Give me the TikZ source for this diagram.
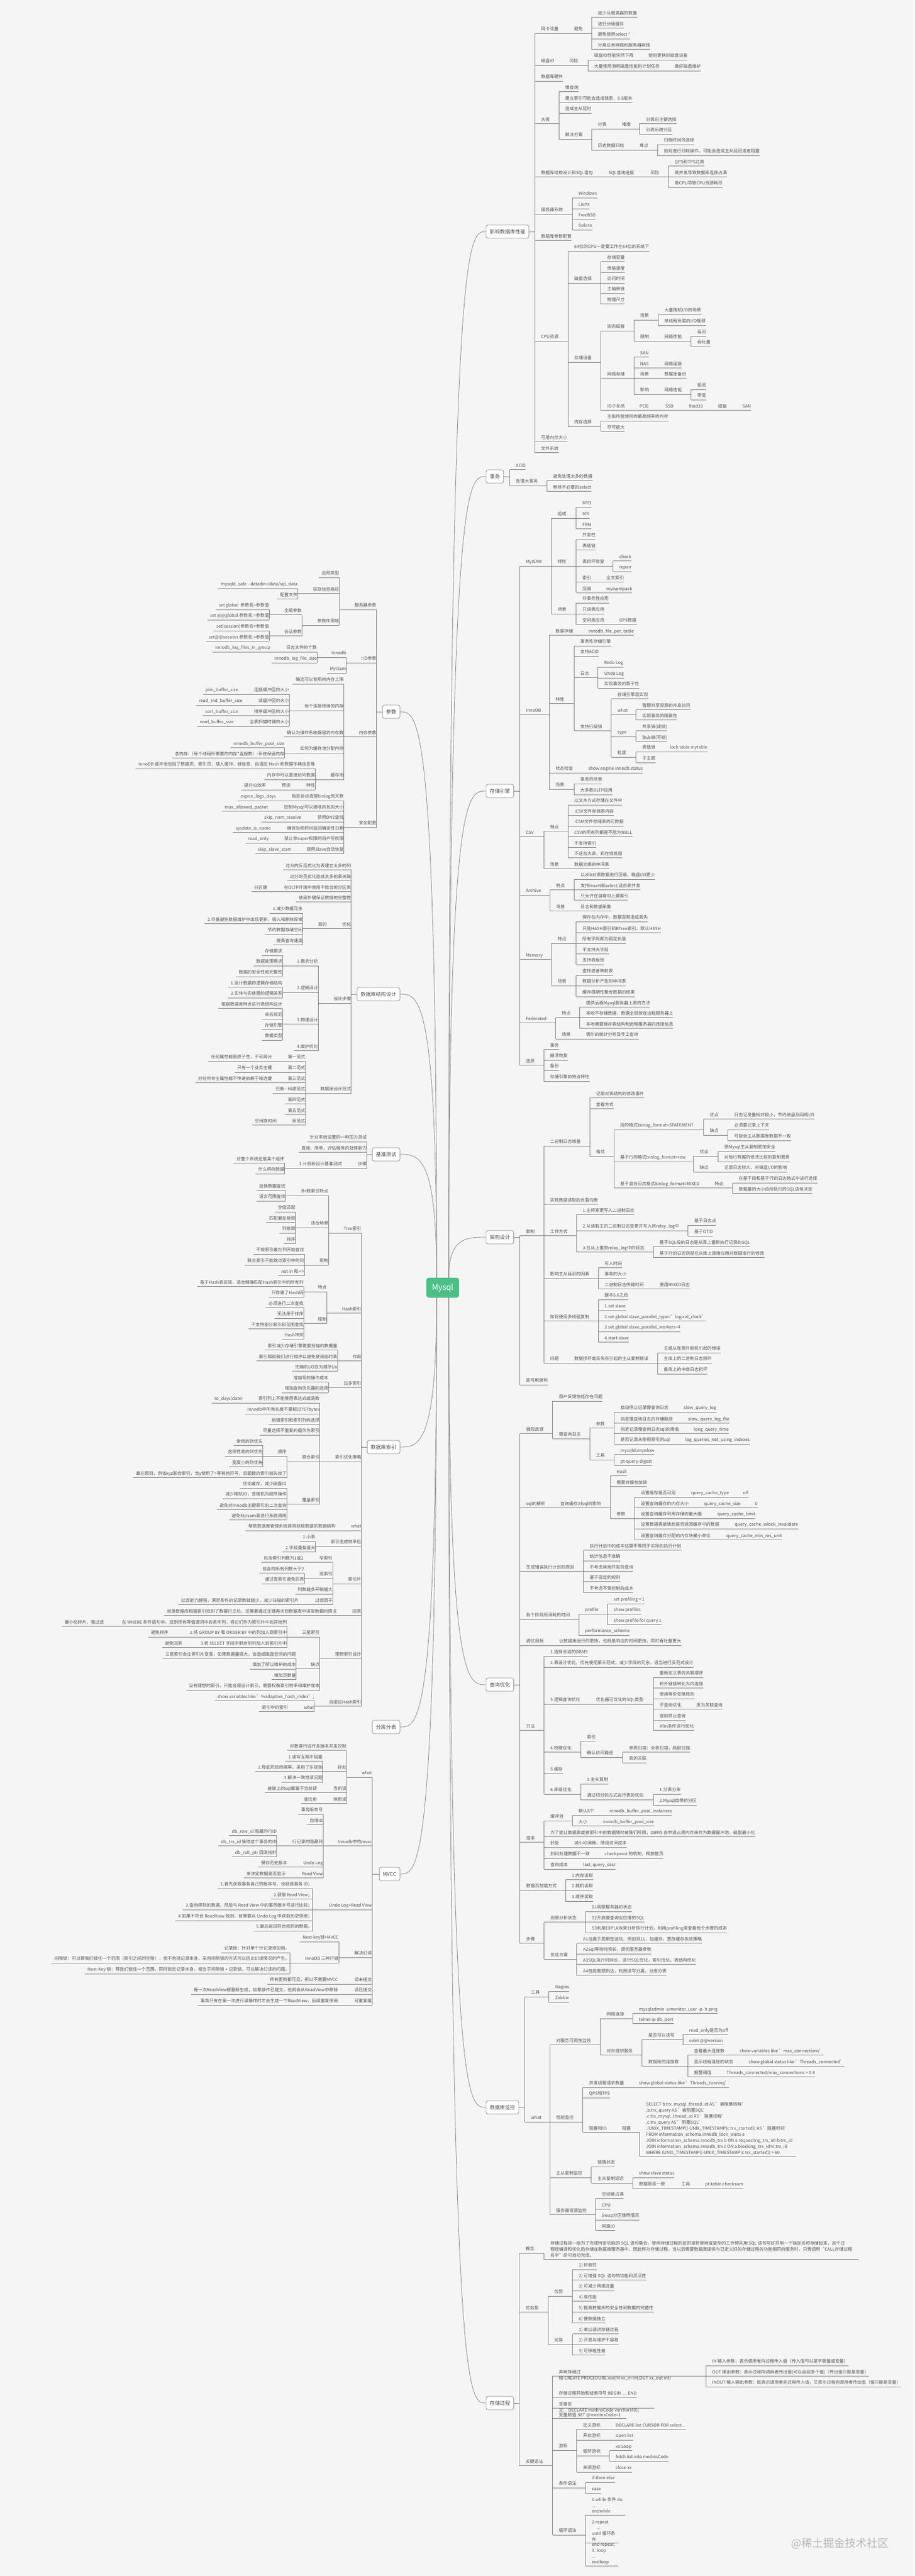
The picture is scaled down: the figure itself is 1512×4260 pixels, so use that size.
\documentclass[tikz,border=0pt]{standalone}
\usepackage{fontspec}
\setmainfont{Noto Sans CJK SC}
\definecolor{bg}{HTML}{F5F5F5}
\definecolor{txt}{HTML}{505050}
\definecolor{lc}{HTML}{8A8A8A}
\definecolor{mgreen}{HTML}{4DBF86}
\newcommand\fsz{\fontsize{7.2}{8}\selectfont}
\tikzset{
  rn/.style={anchor=west,inner xsep=0pt,inner ysep=2.5pt,text height=5.3pt,text depth=1.7pt,font=\fsz,text=txt},
  lnd/.style={rn,anchor=east},
  ln/.style={draw=lc,line width=0.7pt},
  crv/.style={draw=lc,line width=0.8pt},
  topbox/.style={draw=lc,fill=white,rounded corners=3pt,font=\fontsize{8.4}{10}\selectfont,text=txt!90!black,minimum height=22pt,inner xsep=6pt,inner ysep=2pt,line width=0.7pt},
  blk/.style={anchor=south west,inner sep=0pt,text=txt},
}
\newcommand\nR[4]{\node[rn] (#1) at (#2,#3) {\hspace{10.5pt}#4\hspace{4.5pt}};\draw[ln] (#1.south west) -- (#1.south east);}
\newcommand\nL[4]{\node[lnd] (#1) at (#2,#3) {\hspace{4.5pt}#4\hspace{10.5pt}};\draw[ln] (#1.south west) -- (#1.south east);}
\newcommand\conRs[2]{\foreach \x in {#2}{\draw[ln] (#1.south east) -| (\x.south west);}}
\newcommand\conLs[2]{\foreach \x in {#2}{\draw[ln] (#1.south west) -| (\x.south east);}}
\newcommand\topR[2]{\foreach \x in {#2}{\draw[ln] (#1.east) -| (\x.south west);}}
\newcommand\topL[2]{\foreach \x in {#2}{\draw[ln] (#1.west) -| (\x.south east);}}
\begin{document}
\begin{tikzpicture}[x=1pt,y=-1pt]
\fill[bg] (0,0) rectangle (1512,4260);
\useasboundingbox (0,0) rectangle (1512,4260);

% ================= center =================
\node[fill=mgreen,rounded corners=4pt,text=white,font=\fontsize{13}{15}\selectfont,minimum width=54pt,minimum height=33pt,inner sep=0pt] (mysql) at (732,2129.5) {Mysql};

% ================= right top boxes =================
\node[topbox,anchor=west] (b1) at (803.5,383) {影响数据库性能};
\node[topbox,anchor=west] (b2) at (803.5,788) {事务};
\node[topbox,anchor=west] (b3) at (803.5,1308) {存储引擎};
\node[topbox,anchor=west] (b4) at (803.5,2046) {架构设计};
\node[topbox,anchor=west] (b5) at (803.5,2786) {查询优化};
\node[topbox,anchor=west] (b6) at (803.5,3485) {数据库监控};
\node[topbox,anchor=west] (b7) at (803.5,3974) {存储过程};
% ================= left top boxes =================
\node[topbox,anchor=east] (L1) at (661.5,1177) {参数};
\node[topbox,anchor=east] (L2) at (661.5,1644) {数据库结构设计};
\node[topbox,anchor=east] (L3) at (661.5,1909) {基准测试};
\node[topbox,anchor=east] (L4) at (661.5,2393) {数据库索引};
\node[topbox,anchor=east] (L5) at (661.5,2856) {分库分表};
\node[topbox,anchor=east] (L6) at (661.5,3099) {MVCC};

\draw[crv] ([xshift=10pt]mysql.north) .. controls +(0,-1730) and +(-31,0) .. (b1.west);
\draw[crv] ([xshift=10pt]mysql.north) .. controls +(0,-1325) and +(-31,0) .. (b2.west);
\draw[crv] ([xshift=10pt]mysql.north) .. controls +(0,-805) and +(-31,0) .. (b3.west);
\draw[crv] ([xshift=10pt]mysql.north) .. controls +(0,-67) and +(-31,0) .. (b4.west);
\draw[crv] ([xshift=10pt]mysql.south) .. controls +(0,640) and +(-31,0) .. (b5.west);
\draw[crv] ([xshift=10pt]mysql.south) .. controls +(0,1339) and +(-31,0) .. (b6.west);
\draw[crv] ([xshift=10pt]mysql.south) .. controls +(0,1828) and +(-31,0) .. (b7.west);
\draw[crv] ([xshift=-10pt]mysql.north) .. controls +(0,-936) and +(30,0) .. (L1.east);
\draw[crv] ([xshift=-10pt]mysql.north) .. controls +(0,-469) and +(30,0) .. (L2.east);
\draw[crv] ([xshift=-10pt]mysql.north) .. controls +(0,-204) and +(30,0) .. (L3.east);
\draw[crv] ([xshift=-10pt]mysql.south) .. controls +(0,247) and +(30,0) .. (L4.east);
\draw[crv] ([xshift=-10pt]mysql.south) .. controls +(0,710) and +(30,0) .. (L5.east);
\draw[crv] ([xshift=-10pt]mysql.south) .. controls +(0,953) and +(30,0) .. (L6.east);

% ================= b1 影响数据库性能 =================
\nR{a1}{884}{49.2}{网卡流量}
\nR{a1a}{938.5}{49.2}{避免}
\nR{a1a1}{978}{22.4}{减少从服务器的数量}
\nR{a1a2}{978}{40.3}{进行分级缓存}
\nR{a1a3}{978}{58.1}{避免使用select *}
\nR{a1a4}{978}{75.5}{分离业务网络和服务器网络}
\nR{a2}{884}{101.9}{磁盘IO}
\nR{a2a}{931}{101.9}{风险}
\nR{a2a1}{972}{92.9}{磁盘IO性能突然下降}
\nR{a2a1a}{1061.5}{92.9}{使用更快的磁盘设备}
\nR{a2a2}{972}{110.8}{大量使用消耗磁盘性能的计划任务}
\nR{a2a2a}{1105}{110.8}{做好磁盘维护}
\nR{a3}{884}{127.7}{数据库硬件}
\nR{a4}{884}{198.3}{大表}
\nR{a4a}{924}{145.6}{慢查询}
\nR{a4b}{924}{163.5}{建立索引可能会造成锁表，5.5版本}
\nR{a4c}{924}{181}{造成主从延时}
\nR{a4d}{924}{224}{解决方案}
\nR{a4d1}{978}{207.2}{分表}
\nR{a4d1a}{1018}{207.2}{难度}
\nR{a4d1a1}{1057.5}{198.3}{分表后主键选择}
\nR{a4d1a2}{1057.5}{215.7}{分表后跨分区}
\nR{a4d2}{978}{242}{历史数据归档}
\nR{a4d2a}{1047}{242}{难点}
\nR{a4d2a1}{1087}{233}{归档时间的选择}
\nR{a4d2a2}{1087}{251}{如何进行归档操作，可能会造成主从延迟或者阻塞}
\nR{a5}{884}{286.3}{数据库结构设计和SQL语句}
\nR{a5a}{995.5}{286.3}{SQL查询速度}
\nR{a5a1}{1065}{286.3}{风险}
\nR{a5a1a}{1105}{268.4}{QPS和TPS过高}
\nR{a5a1b}{1105}{286.3}{高并发导致数据库连接占满}
\nR{a5a1c}{1105}{303.7}{高CPU导致CPU资源耗尽}
\nR{a6}{884}{347.9}{服务器系统}
\nR{a6a}{946}{321}{Windows}
\nR{a6b}{946}{339}{Liunx}
\nR{a6c}{946}{356.3}{FreeBSD}
\nR{a6d}{946}{373.7}{Solaris}
\nR{a7}{884}{391.6}{数据库参数配置}
\nR{a8}{884}{558}{CPU资源}
\nR{a8a}{939}{409}{64位的CPU一定要工作在64位的系统下}
\nR{a8b}{939}{461.7}{磁盘选择}
\nR{a8b1}{993.5}{426.4}{存储容量}
\nR{a8b2}{993.5}{444.3}{传输速度}
\nR{a8b3}{993.5}{461.7}{访问时间}
\nR{a8b4}{993.5}{479.1}{主轴转速}
\nR{a8b5}{993.5}{496.5}{物理尺寸}
\nR{a8c}{939}{592.9}{存储设备}
\nR{a8c1}{993.5}{540.7}{固态磁盘}
\nR{a8c1a}{1048}{522.8}{场景}
\nR{a8c1a1}{1088}{514}{大量随机I/O的场景}
\nR{a8c1a2}{1088}{531.8}{单线程负载的I/O瓶颈}
\nR{a8c1b}{1048}{558}{限制}
\nR{a8c1b1}{1088}{558}{网络性能}
\nR{a8c1b1a}{1142.5}{549.7}{延迟}
\nR{a8c1b1b}{1142.5}{567}{吞吐量}
\nR{a8c2}{993.5}{619.3}{网络存储}
\nR{a8c2a}{1048}{584.5}{SAN}
\nR{a8c2b}{1048}{602.4}{NAS}
\nR{a8c2b1}{1088}{602.4}{网络连接}
\nR{a8c2c}{1048}{619.3}{场景}
\nR{a8c2c1}{1088}{619.3}{数据库备份}
\nR{a8c2d}{1048}{646.1}{影响}
\nR{a8c2d1}{1088}{646.1}{网络性能}
\nR{a8c2d1a}{1142.5}{637.7}{延迟}
\nR{a8c2d1b}{1142.5}{655}{带宽}
\nR{a8c3}{993.5}{672.4}{IO子系统}
\nR{a8c3a}{1047}{672.4}{PCIE}
\nR{a8c3b}{1089.5}{672.4}{SSD}
\nR{a8c3c}{1128.5}{672.4}{Raid10}
\nR{a8c3d}{1177}{672.4}{磁盘}
\nR{a8c3e}{1217}{672.4}{SAN}
\nR{a8d}{939}{698.8}{内存选择}
\nR{a8d1}{993.5}{689.8}{主板所能使用的最高频率的内存}
\nR{a8d2}{993.5}{707.2}{尽可能大}
\nR{a9}{884}{724.6}{可用内存大小}
\nR{a10}{884}{742.5}{文件系统}
\topR{b1}{a1,a2,a3,a4,a5,a6,a7,a8,a9,a10}
\conRs{a1}{a1a}
\conRs{a1a}{a1a1,a1a2,a1a3,a1a4}
\conRs{a2}{a2a}
\conRs{a2a}{a2a1,a2a2}
\conRs{a2a1}{a2a1a}
\conRs{a2a2}{a2a2a}
\conRs{a4}{a4a,a4b,a4c,a4d}
\conRs{a4d}{a4d1,a4d2}
\conRs{a4d1}{a4d1a}
\conRs{a4d1a}{a4d1a1,a4d1a2}
\conRs{a4d2}{a4d2a}
\conRs{a4d2a}{a4d2a1,a4d2a2}
\conRs{a5}{a5a}
\conRs{a5a}{a5a1}
\conRs{a5a1}{a5a1a,a5a1b,a5a1c}
\conRs{a6}{a6a,a6b,a6c,a6d}
\conRs{a8}{a8a,a8b,a8c,a8d}
\conRs{a8b}{a8b1,a8b2,a8b3,a8b4,a8b5}
\conRs{a8c}{a8c1,a8c2,a8c3}
\conRs{a8c1}{a8c1a,a8c1b}
\conRs{a8c1a}{a8c1a1,a8c1a2}
\conRs{a8c1b}{a8c1b1}
\conRs{a8c1b1}{a8c1b1a,a8c1b1b}
\conRs{a8c2}{a8c2a,a8c2b,a8c2c,a8c2d}
\conRs{a8c2b}{a8c2b1}
\conRs{a8c2c}{a8c2c1}
\conRs{a8c2d}{a8c2d1}
\conRs{a8c2d1}{a8c2d1a,a8c2d1b}
\conRs{a8c3}{a8c3a}
\conRs{a8c3a}{a8c3b}
\conRs{a8c3b}{a8c3c}
\conRs{a8c3c}{a8c3d}
\conRs{a8c3d}{a8c3e}
\conRs{a8d}{a8d1,a8d2}

% ================= b2 事务 =================
\nR{t1}{842.5}{770.4}{ACID}
\nR{t2}{842.5}{796.8}{处理大事务}
\nR{t2a}{904}{788.3}{避免处理太多的数据}
\nR{t2b}{904}{806.2}{移除不必要的select}
\topR{b2}{t1,t2}
\conRs{t2}{t2a,t2b}

% ================= b3 存储引擎 =================
\nR{s1}{859}{930}{MyISAM}
\nR{s1a}{911.5}{851}{组成}
\nR{s1a1}{952.5}{833}{MYD}
\nR{s1a2}{952.5}{851}{MYI}
\nR{s1a3}{952.5}{868.3}{FRM}
\nR{s1b}{911.5}{930}{特性}
\nR{s1b1}{952.5}{885.7}{并发性}
\nR{s1b2}{952.5}{903.6}{表级锁}
\nR{s1b3}{952.5}{930}{表损坏修复}
\nR{s1b3a}{1013.5}{921.5}{check}
\nR{s1b3b}{1013.5}{939}{repair}
\nR{s1b4}{952.5}{956.3}{索引}
\nR{s1b4a}{992}{956.3}{全文索引}
\nR{s1b5}{952.5}{974.2}{压缩}
\nR{s1b5a}{992}{974.2}{myisampack}
\nR{s1c}{911.5}{1009}{场景}
\nR{s1c1}{952.5}{991.1}{非事务性应用}
\nR{s1c2}{952.5}{1009}{只读类应用}
\nR{s1c3}{952.5}{1026.4}{空间类应用}
\nR{s1c3a}{1013.5}{1026.4}{GPS数据}
\nR{s2}{859}{1175.5}{InnoDB}
\nR{s2a}{908}{1044.3}{数据存储}
\nR{s2a1}{962.5}{1044.3}{innodb\_file\_per\_table}
\nR{s2b}{908}{1157.6}{特性}
\nR{s2b1}{949}{1061.7}{事务性存储引擎}
\nR{s2b2}{949}{1079}{支持ACID}
\nR{s2b3}{949}{1114.4}{日志}
\nR{s2b3a}{988.5}{1097}{Redo Log}
\nR{s2b3b}{988.5}{1114.9}{Undo Log}
\nR{s2b3c}{988.5}{1131.8}{实现事务的原子性}
\nR{s2b4}{949}{1202.3}{支持行级锁}
\nR{s2b4a}{1010.5}{1149.6}{存储引擎层实现}
\nR{s2b4b}{1010.5}{1175.5}{what}
\nR{s2b4b1}{1051.5}{1167.5}{管理共享资源的并发访问}
\nR{s2b4b2}{1051.5}{1184.4}{实现事务的隔离性}
\nR{s2b4c}{1010.5}{1211.8}{type}
\nR{s2b4c1}{1051.5}{1202.3}{共享锁(读锁)}
\nR{s2b4c2}{1051.5}{1220.2}{独占锁(写锁)}
\nR{s2b4d}{1010.5}{1246}{粒度}
\nR{s2b4d1}{1051.5}{1237.1}{表级锁}
\nR{s2b4d1a}{1097}{1237.1}{lock table mytable}
\nR{s2b4d2}{1051.5}{1255}{子主题}
\nR{s2c}{908}{1271.9}{状态检查}
\nR{s2c1}{962.5}{1271.9}{show engine innodb status}
\nR{s2d}{908}{1298.7}{场景}
\nR{s2d1}{949}{1289.8}{事务的场景}
\nR{s2d2}{949}{1307.7}{大多数OLTP应用}
\nR{s3}{859}{1377.3}{CSV}
\nR{s3a}{899}{1368.3}{特点}
\nR{s3a1}{939}{1325.1}{以文本方式存储在文件中}
\nR{s3a2}{939}{1342.5}{.CSV文件存储表内容}
\nR{s3a3}{939}{1359.9}{.CSM文件存储表的元数据}
\nR{s3a4}{939}{1377.3}{CSV的所有列都是不能为NULL}
\nR{s3a5}{939}{1395.2}{不支持索引}
\nR{s3a6}{939}{1412.6}{不适合大表，和在线处理}
\nR{s3b}{899}{1430.5}{场景}
\nR{s3b1}{939}{1430.5}{数据交换的中间表}
\nR{s4}{859}{1473.7}{Archive}
\nR{s4a}{909}{1465.2}{特点}
\nR{s4a1}{949.5}{1447.8}{以zlib对表数据进行压缩，磁盘I/O更少}
\nR{s4a2}{949.5}{1465.2}{支持insert和select,适合高并发}
\nR{s4a3}{949.5}{1482.6}{只允许在自增ID上建索引}
\nR{s4b}{909}{1500.5}{场景}
\nR{s4b1}{949.5}{1500.5}{日志和数据采集}
\nR{s5}{859}{1580.2}{Memory}
\nR{s5a}{911.5}{1553.9}{特点}
\nR{s5a1}{952.5}{1518}{保存在内存中，数据容易造成丢失}
\nR{s5a2}{952.5}{1536.5}{只是HASH索引和BTree索引，默认HASH}
\nR{s5a3}{952.5}{1553.9}{所有字段都为固定长度}
\nR{s5a4}{952.5}{1571.3}{不支持大字段}
\nR{s5a5}{952.5}{1589.1}{支持表级锁}
\nR{s5b}{911.5}{1623.9}{场景}
\nR{s5b1}{952.5}{1607}{查找或者映射表}
\nR{s5b2}{952.5}{1623.9}{数据分析产生的中间表}
\nR{s5b3}{952.5}{1641.8}{缓存周期性聚合数据的结果}
\nR{s6}{859}{1685.6}{Federated}
\nR{s6a}{918.5}{1676.6}{特点}
\nR{s6a1}{958.5}{1659.2}{提供远程Mysql服务器上表的方法}
\nR{s6a2}{958.5}{1676.6}{本地不存储数据，数据全部放在远程服务器上}
\nR{s6a3}{958.5}{1694.5}{本地需要保存表结构和远程服务器的连接信息}
\nR{s6b}{918.5}{1711.9}{场景}
\nR{s6b1}{958.5}{1711.9}{偶尔的统计分析及手工查询}
\nR{s7}{859}{1755.6}{选择}
\nR{s7a}{899}{1729.3}{事务}
\nR{s7b}{899}{1746.7}{崩溃恢复}
\nR{s7c}{899}{1764.1}{备份}
\nR{s7d}{899}{1782}{存储引擎的特点特性}
\topR{b3}{s1,s2,s3,s4,s5,s6,s7}
\conRs{s1}{s1a,s1b,s1c}
\conRs{s1a}{s1a1,s1a2,s1a3}
\conRs{s1b}{s1b1,s1b2,s1b3,s1b4,s1b5}
\conRs{s1b3}{s1b3a,s1b3b}
\conRs{s1b4}{s1b4a}
\conRs{s1b5}{s1b5a}
\conRs{s1c}{s1c1,s1c2,s1c3}
\conRs{s1c3}{s1c3a}
\conRs{s2}{s2a,s2b,s2c,s2d}
\conRs{s2a}{s2a1}
\conRs{s2b}{s2b1,s2b2,s2b3,s2b4}
\conRs{s2b3}{s2b3a,s2b3b,s2b3c}
\conRs{s2b4}{s2b4a,s2b4b,s2b4c,s2b4d}
\conRs{s2b4b}{s2b4b1,s2b4b2}
\conRs{s2b4c}{s2b4c1,s2b4c2}
\conRs{s2b4d}{s2b4d1,s2b4d2}
\conRs{s2b4d1}{s2b4d1a}
\conRs{s2c}{s2c1}
\conRs{s2d}{s2d1,s2d2}
\conRs{s3}{s3a,s3b}
\conRs{s3a}{s3a1,s3a2,s3a3,s3a4,s3a5,s3a6}
\conRs{s3b}{s3b1}
\conRs{s4}{s4a,s4b}
\conRs{s4a}{s4a1,s4a2,s4a3}
\conRs{s4b}{s4b1}
\conRs{s5}{s5a,s5b}
\conRs{s5a}{s5a1,s5a2,s5a3,s5a4,s5a5}
\conRs{s5b}{s5b1,s5b2,s5b3}
\conRs{s6}{s6a,s6b}
\conRs{s6a}{s6a1,s6a2,s6a3}
\conRs{s6b}{s6b1}
\conRs{s7}{s7a,s7b,s7c,s7d}

% ================= b4 架构设计 =================
\nR{j1}{859}{2037.4}{复制}
\nR{j1a}{899}{1888.8}{二进制日志增量}
\nR{j1a1}{975}{1809.3}{记录对表结构的修改事件}
\nR{j1a2}{975}{1827.2}{查看方式}
\nR{j1a3}{975}{1905.7}{格式}
\nR{j1a3a}{1015}{1862}{段的格式binlog\_format=STATEMENT}
\nR{j1a3a1}{1163}{1844.6}{优点}
\nR{j1a3a1a}{1203.5}{1844.6}{日志记录量相对较小，节约磁盘及网络I/O}
\nR{j1a3a2}{1163}{1871}{缺点}
\nR{j1a3a2a}{1203.5}{1862}{必须要记录上下文}
\nR{j1a3a2b}{1203.5}{1879.9}{可能会主从数据库数据不一致}
\nR{j1a3b}{1015}{1914.7}{基于行的格式binlog\_format=row}
\nR{j1a3b1}{1146.5}{1905.7}{优点}
\nR{j1a3b1a}{1187}{1897.8}{使Mysql主从复制更加安全}
\nR{j1a3b1b}{1187}{1914.7}{对每行数据的修改比段的复制更高}
\nR{j1a3b2}{1146.5}{1932}{缺点}
\nR{j1a3b2a}{1187}{1932}{记录日志较大，对磁盘I/O的影响}
\nR{j1a3c}{1015}{1958.4}{基于混合日志格式binlog\_format=MIXED}
\nR{j1a3c1}{1171}{1958.4}{特点}
\nR{j1a3c1a}{1211}{1950}{在基于段和基于行的日志格式中进行选择}
\nR{j1a3c1b}{1211}{1967.4}{数据量的大小由所执行的SQL语句决定}
\nR{j1b}{899}{1985.3}{实现数据读取的负载均衡}
\nR{j1c}{899}{2037.4}{工作方式}
\nR{j1c1}{953}{2002.6}{1.主将变更写入二进制日志}
\nR{j1c2}{953}{2029}{2.从读取主的二进制日志变更并写入到relay\_log中}
\nR{j1c2a}{1137.5}{2020}{基于日志点}
\nR{j1c2b}{1137.5}{2038}{基于GTID}
\nR{j1c3}{953}{2064.3}{3.在从上重放relay\_log中的日志}
\nR{j1c3a}{1080}{2055.3}{基于SQL段的日志是从库上重新执行记录的SQL}
\nR{j1c3b}{1080}{2073.2}{基于行的日志则是在从库上直接应用对数据库行的修改}
\nR{j1d}{899}{2108}{影响主从延迟的因素}
\nR{j1d1}{989}{2090.6}{写入时间}
\nR{j1d2}{989}{2108}{事务的大小}
\nR{j1d3}{989}{2125.4}{二进制日志传输时间}
\nR{j1d3a}{1080}{2125.4}{使用MIXED日志}
\nR{j1e}{899}{2178.6}{如何使用多线程复制}
\nR{j1e1}{989}{2142.8}{版本5.6之后}
\nR{j1e2}{989}{2160.7}{1.set slave}
\nR{j1e3}{989}{2178.6}{2.set global slave\_parallel\_type='logical\_clock'}
\nR{j1e4}{989}{2196}{3.set global slave\_parallel\_workers=4}
\nR{j1e5}{989}{2213.4}{4.start slave}
\nR{j1f}{899}{2247.7}{问题}
\nR{j1f1}{939}{2247.7}{数据损坏或丢失所引起的主从复制错误}
\nR{j1f1a}{1087}{2230.8}{主或从库意外宕机引起的错误}
\nR{j1f1b}{1087}{2247.7}{主库上的二进制日志损坏}
\nR{j1f1c}{1087}{2266}{备库上的中继日志损坏}
\nR{j2}{859}{2284}{高可用架构}
\topR{b4}{j1,j2}
\conRs{j1}{j1a,j1b,j1c,j1d,j1e,j1f}
\conRs{j1a}{j1a1,j1a2,j1a3}
\conRs{j1a3}{j1a3a,j1a3b,j1a3c}
\conRs{j1a3a}{j1a3a1,j1a3a2}
\conRs{j1a3a1}{j1a3a1a}
\conRs{j1a3a2}{j1a3a2a,j1a3a2b}
\conRs{j1a3b}{j1a3b1,j1a3b2}
\conRs{j1a3b1}{j1a3b1a,j1a3b1b}
\conRs{j1a3b2}{j1a3b2a}
\conRs{j1a3c}{j1a3c1}
\conRs{j1a3c1}{j1a3c1a,j1a3c1b}
\conRs{j1c}{j1c1,j1c2,j1c3}
\conRs{j1c2}{j1c2a,j1c2b}
\conRs{j1c3}{j1c3a,j1c3b}
\conRs{j1d}{j1d1,j1d2,j1d3}
\conRs{j1d3}{j1d3a}
\conRs{j1e}{j1e1,j1e2,j1e3,j1e4,j1e5}
\conRs{j1f}{j1f1}
\conRs{j1f1}{j1f1a,j1f1b,j1f1c}

% ================= b5 查询优化 =================
\nR{q1}{859.5}{2364.6}{微观反馈}
\nR{q1a}{913.5}{2310.9}{用户反馈性能存在问题}
\nR{q1b}{913.5}{2373}{慢查询日志}
\nR{q1b1}{975}{2355.6}{参数}
\nR{q1b1a}{1015.5}{2328.8}{启动停止记录慢查询日志}
\nR{q1b1a1}{1120}{2328.8}{slow\_query\_log}
\nR{q1b1b}{1015.5}{2347.2}{指定慢查询日志的存储路径}
\nR{q1b1b1}{1127.5}{2347.2}{slow\_query\_log\_file}
\nR{q1b1c}{1015.5}{2364.6}{指定记录慢查询日志sql的阈值}
\nR{q1b1c1}{1136.5}{2364.6}{long\_query\_time}
\nR{q1b1d}{1015.5}{2382}{是否记录未使用索引的sql}
\nR{q1b1d1}{1122.5}{2382}{log\_queries\_not\_using\_indexes}
\nR{q1b2}{975}{2407.8}{工具}
\nR{q1b2a}{1015.5}{2399.3}{mysqldumpslow}
\nR{q1b2b}{1015.5}{2417.2}{pt-query-digest}
\nR{q2}{859.5}{2487.3}{sql的解析}
\nR{q2a}{916}{2487.3}{查询缓存对sql的影响}
\nR{q2a1}{1009}{2434.6}{Hash}
\nR{q2a2}{1009}{2452.5}{需要对缓存加锁}
\nR{q2a3}{1009}{2504.7}{参数}
\nR{q2a3a}{1049}{2469.9}{设置缓存是否可用}
\nR{q2a3a1}{1132.5}{2469.9}{query\_cache\_type}
\nR{q2a3a1a}{1218}{2469.9}{off}
\nR{q2a3b}{1049}{2487.3}{设置查询缓存的内存大小}
\nR{q2a3b1}{1154}{2487.3}{query\_cache\_size}
\nR{q2a3b1a}{1238}{2487.3}{0}
\nR{q2a3c}{1049}{2504.7}{设置查询缓存可用存储的最大值}
\nR{q2a3c1}{1175.5}{2504.7}{query\_cache\_limit}
\nR{q2a3d}{1049}{2522.1}{设置数据表被锁后是否返回缓存中的数据}
\nR{q2a3d1}{1204.5}{2522.1}{query\_cache\_wlock\_invalidare}
\nR{q2a3e}{1049}{2540.5}{设置查询缓存分配的内存块最小单位}
\nR{q2a3e1}{1190.5}{2540.5}{query\_cache\_min\_res\_unit}
\nR{q3}{859.5}{2592.2}{生成错误执行计划的原因}
\nR{q3a}{964.5}{2557.4}{执行计划中的成本估算不等同于实际的执行计划}
\nR{q3b}{964.5}{2574.8}{统计信息不准确}
\nR{q3c}{964.5}{2592.2}{不考虑其他并发的查询}
\nR{q3d}{964.5}{2609.6}{基于固定的规则}
\nR{q3e}{964.5}{2627.5}{不考虑不受控制的成本}
\nR{q4}{859.5}{2671.7}{各个阶段所消耗的时间}
\nR{q4a}{957}{2662.8}{profile}
\nR{q4a1}{1004}{2645.9}{set profiling = 1}
\nR{q4a2}{1004}{2662.8}{show profiles}
\nR{q4a3}{1004}{2680.6}{show profile for query 1}
\nR{q4b}{957}{2698}{performance\_schema}
\nR{q5}{859.5}{2714.9}{调优目标}
\nR{q5a}{914}{2714.9}{让数据库运行的更快，也就是响应的时间更快，同时吞吐量更大}
\nR{q6}{859.5}{2855.6}{方法}
\nR{q6a}{899.5}{2732.8}{1.选择合适的DBMS}
\nR{q6b}{899.5}{2750.7}{2.表设计优化，优先使用第三范式，减少字段的冗余，适当进行反范式设计}
\nR{q6c}{899.5}{2811.9}{3.逻辑查询优化}
\nR{q6c1}{975}{2811.9}{优化器可优化的SQL类型}
\nR{q6c1a}{1080}{2768.1}{重新定义表的关联顺序}
\nR{q6c1b}{1080}{2785.5}{将外链接转化为内连接}
\nR{q6c1c}{1080}{2802.9}{使用等价变换规则}
\nR{q6c1d}{1080}{2820.3}{子查询优化}
\nR{q6c1d1}{1141}{2820.3}{变为关联查询}
\nR{q6c1e}{1080}{2838.7}{提前终止查询}
\nR{q6c1f}{1080}{2855.6}{对in条件进行优化}
\nR{q6d}{899.5}{2891.4}{4.物理优化}
\nR{q6d1}{960}{2873.5}{索引}
\nR{q6d2}{960}{2899.8}{确认访问路径}
\nR{q6d2a}{1029.5}{2891.4}{单表扫描：全表扫描，局部扫描}
\nR{q6d2b}{1029.5}{2908.8}{表的关联}
\nR{q6e}{899.5}{2926.2}{5.缓存}
\nR{q6f}{899.5}{2961}{6.库级优化}
\nR{q6f1}{960}{2944}{1.主从复制}
\nR{q6f2}{960}{2969.9}{通过切分的方式进行表的优化}
\nR{q6f2a}{1080}{2961}{1.分表分库}
\nR{q6f2b}{1080}{2978.8}{2.Mysql自带的分区}
\nR{q7}{859.5}{3040.5}{成本}
\nR{q7a}{899.5}{3004.7}{缓冲池}
\nR{q7a1}{946}{2995.7}{默认8个}
\nR{q7a1a}{997.5}{2995.7}{innodb\_buffer\_pool\_instances}
\nR{q7a2}{946}{3013.6}{大小}
\nR{q7a2a}{986.5}{3013.6}{innodb\_buffer\_pool\_size}
\nR{q7b}{899.5}{3031.5}{为了能让数据表或者索引中的数据随时被我们所用，DBMS 会申请占用内存来作为数据缓冲池，磁盘最小化}
\nR{q7c}{899.5}{3048.9}{好处}
\nR{q7c1}{939}{3048.9}{减小IO消耗，降低访问成本}
\nR{q7d}{899.5}{3067}{如何处理数据不一致}
\nR{q7d1}{989.5}{3067}{checkpoint 的机制，释放脏页}
\nR{q7e}{899.5}{3084.9}{查询成本}
\nR{q7e1}{953.5}{3084.9}{last\_query\_cost}
\nR{q8}{859.5}{3120.1}{数据页加载方式}
\nR{q8a}{935}{3102.2}{1.内存读取}
\nR{q8b}{935}{3120.1}{2.随机读取}
\nR{q8c}{935}{3138}{3.顺序读取}
\nR{q9}{859.5}{3207.6}{步骤}
\nR{q9a}{899.5}{3172.3}{观察分析状态}
\nR{q9a1}{968}{3154.9}{S1观察服务器的状态}
\nR{q9a2}{968}{3172.3}{S2开启慢查询定位慢的SQL}
\nR{q9a3}{968}{3189.7}{S3利用EXPLAIN来分析执行计划，利用profiling来查看每个步骤的成本}
\nR{q9b}{899.5}{3234}{优化方案}
\nR{q9b1}{953.5}{3207.6}{A1当属于周期性波动，例如双11，加缓存，更改缓存失效策略}
\nR{q9b2}{953.5}{3225}{A2Sql等待时间长，调优服务器参数}
\nR{q9b3}{953.5}{3242.4}{A3SQL执行时间长，进行SQL优化，索引优化，表结构优化}
\nR{q9b4}{953.5}{3260.3}{A4性能瓶颈到达，利用读写分离，分库分表}
\topR{b5}{q1,q2,q3,q4,q5,q6,q7,q8,q9}
\conRs{q1}{q1a,q1b}
\conRs{q1b}{q1b1,q1b2}
\conRs{q1b1}{q1b1a,q1b1b,q1b1c,q1b1d}
\conRs{q1b1a}{q1b1a1}
\conRs{q1b1b}{q1b1b1}
\conRs{q1b1c}{q1b1c1}
\conRs{q1b1d}{q1b1d1}
\conRs{q1b2}{q1b2a,q1b2b}
\conRs{q2}{q2a}
\conRs{q2a}{q2a1,q2a2,q2a3}
\conRs{q2a3}{q2a3a,q2a3b,q2a3c,q2a3d,q2a3e}
\conRs{q2a3a}{q2a3a1}
\conRs{q2a3a1}{q2a3a1a}
\conRs{q2a3b}{q2a3b1}
\conRs{q2a3b1}{q2a3b1a}
\conRs{q2a3c}{q2a3c1}
\conRs{q2a3d}{q2a3d1}
\conRs{q2a3e}{q2a3e1}
\conRs{q3}{q3a,q3b,q3c,q3d,q3e}
\conRs{q4}{q4a,q4b}
\conRs{q4a}{q4a1,q4a2,q4a3}
\conRs{q5}{q5a}
\conRs{q6}{q6a,q6b,q6c,q6d,q6e,q6f}
\conRs{q6c}{q6c1}
\conRs{q6c1}{q6c1a,q6c1b,q6c1c,q6c1d,q6c1e,q6c1f}
\conRs{q6c1d}{q6c1d1}
\conRs{q6d}{q6d1,q6d2}
\conRs{q6d2}{q6d2a,q6d2b}
\conRs{q6f}{q6f1,q6f2}
\conRs{q6f2}{q6f2a,q6f2b}
\conRs{q7}{q7a,q7b,q7c,q7d,q7e}
\conRs{q7a}{q7a1,q7a2}
\conRs{q7a1}{q7a1a}
\conRs{q7a2}{q7a2a}
\conRs{q7c}{q7c1}
\conRs{q7d}{q7d1}
\conRs{q7e}{q7e1}
\conRs{q8}{q8a,q8b,q8c}
\conRs{q9}{q9a,q9b}
\conRs{q9a}{q9a1,q9a2,q9a3}
\conRs{q9b}{q9b1,q9b2,q9b3,q9b4}

% ================= b6 数据库监控 =================
\nR{m1}{867.5}{3296}{工具}
\nR{m1a}{907.5}{3287.1}{Nagios}
\nR{m1b}{907.5}{3305}{Zabbix}
\nR{m2}{867.5}{3502.8}{what}
\nR{m2a}{909}{3375.6}{对服务可用性监控}
\nR{m2a1}{992.5}{3331.9}{网络连接}
\nR{m2a1a}{1046}{3323.4}{mysqladmin -umonitor\_user -p -h ping}
\nR{m2a1b}{1046}{3340.3}{telnet ip db\_port}
\nR{m2a2}{992.5}{3392.5}{对外提供服务}
\nR{m2a2a}{1061.5}{3366.6}{是否可以读写}
\nR{m2a2a1}{1129}{3358.2}{read\_only是否为off}
\nR{m2a2a2}{1129}{3375.6}{selet @@version}
\nR{m2a2b}{1061.5}{3410.9}{数据库的连接数}
\nR{m2a2b1}{1137}{3392.5}{查看最大连接数}
\nR{m2a2b1a}{1212.5}{3392.5}{show variables like 'max\_connections'}
\nR{m2a2b2}{1137}{3410.9}{显示线程连接的状态}
\nR{m2a2b2a}{1227.5}{3410.9}{show global status like 'Threads\_connected'}
\nR{m2a2b3}{1137}{3428.3}{报警阈值}
\nR{m2a2b3a}{1191}{3428.3}{Threads\_connected/max\_connections > 0.8}
\nR{m2b}{909}{3502.8}{性能监控}
\nR{m2b1}{963.5}{3445.7}{并发线程请求数量}
\nR{m2b1a}{1046}{3445.7}{show global status like 'Threads\_running'}
\nR{m2b2}{963.5}{3463}{QPS和TPS}
\nR{m2b3}{963.5}{3520.2}{阻塞和IO}
\nR{m2b3a}{1018}{3520.2}{阻塞}
\node[blk] (sel) at (1057.6,3566) {\fontsize{7.2}{10}\selectfont\begin{tabular}{@{\hspace{10.5pt}}l@{\hspace{5pt}}}SELECT b.trx\_mysql\_thread\_id AS '被阻塞线程'\\,b.trx\_query AS '被阻塞SQL'\\,c.trx\_mysql\_thread\_id AS '阻塞线程'\\,c.trx\_query AS '阻塞SQL'\\,(UNIX\_TIMESTAMP()-UNIX\_TIMESTAMP(c.trx\_started)) AS '阻塞时间'\\FROM information\_schema.innodb\_lock\_waits a\\JOIN information\_schema.innodb\_trx b ON a.requesting\_trx\_id=b.trx\_id\\JOIN information\_schema.innodb\_trx c ON a.blocking\_trx\_id=c.trx\_id\\WHERE (UNIX\_TIMESTAMP()-UNIX\_TIMESTAMP(c.trx\_started)) > 60\end{tabular}};
\draw[ln] (sel.south west) -- (sel.south east);
\nR{m2c}{909}{3594.8}{主从复制监控}
\nR{m2c1}{977.5}{3576.9}{链路状态}
\nR{m2c2}{977.5}{3603.7}{主从复制延迟}
\nR{m2c2a}{1046}{3594.8}{show slave status}
\nR{m2c2b}{1046}{3612.7}{数据是否一致}
\nR{m2c2b1}{1116}{3612.7}{工具}
\nR{m2c2b1a}{1155.5}{3612.7}{pt-table-checksum}
\nR{m2d}{909}{3656.4}{服务器资源监控}
\nR{m2d1}{984.5}{3629.6}{空间被占满}
\nR{m2d2}{984.5}{3647.5}{CPU}
\nR{m2d3}{984.5}{3664.8}{Swap分区使用情况}
\nR{m2d4}{984.5}{3682.2}{网路IO}
\topR{b6}{m1,m2}
\conRs{m1}{m1a,m1b}
\conRs{m2}{m2a,m2b,m2c,m2d}
\conRs{m2a}{m2a1,m2a2}
\conRs{m2a1}{m2a1a,m2a1b}
\conRs{m2a2}{m2a2a,m2a2b}
\conRs{m2a2a}{m2a2a1,m2a2a2}
\conRs{m2a2b}{m2a2b1,m2a2b2,m2a2b3}
\conRs{m2a2b1}{m2a2b1a}
\conRs{m2a2b2}{m2a2b2a}
\conRs{m2a2b3}{m2a2b3a}
\conRs{m2b}{m2b1,m2b2,m2b3}
\conRs{m2b1}{m2b1a}
\conRs{m2b3}{m2b3a}
\conRs{m2b3a}{sel}
\conRs{m2c}{m2c1,m2c2}
\conRs{m2c2}{m2c2a,m2c2b}
\conRs{m2c2b}{m2c2b1}
\conRs{m2c2b1}{m2c2b1a}
\conRs{m2d}{m2d1,m2d2,m2d3,m2d4}

% ================= b7 存储过程 =================
\nR{p1}{858.5}{3720}{概念}
\node[blk] (p1a) at (899.3,3736) {\fontsize{7.2}{10}\selectfont\begin{tabular}{@{\hspace{10.5pt}}l@{\hspace{11pt}}}存储过程是一组为了完成特定功能的 SQL 语句集合。使用存储过程的目的是将常用或复杂的工作预先用 SQL 语句写好并用一个指定名称存储起来，这个过\\程经编译和优化后存储在数据库服务器中，因此称为存储过程。当以后需要数据库提供与已定义好的存储过程的功能相同的服务时，只需调用“CALL存储过程\\名字”即可自动完成。\end{tabular}};
\draw[ln] (p1a.south west) -- (p1a.south east);
\nR{p2}{858.5}{3817.4}{优劣势}
\nR{p2a}{906}{3791}{优势}
\nR{p2a1}{946.5}{3746.9}{1) 封装性}
\nR{p2a2}{946.5}{3764.2}{2) 可增强 SQL 语句的功能和灵活性}
\nR{p2a3}{946.5}{3782.1}{3) 可减少网络流量}
\nR{p2a4}{946.5}{3799.5}{4) 高性能}
\nR{p2a5}{946.5}{3817.4}{5) 提高数据库的安全性和数据的完整性}
\nR{p2a6}{946.5}{3835.5}{6) 使数据独立}
\nR{p2b}{906}{3871}{劣势}
\nR{p2b1}{946.5}{3853.3}{1) 难以调试存储过程}
\nR{p2b2}{946.5}{3871}{2) 开发与维护不容易}
\nR{p2b3}{946.5}{3888.6}{3) 可移植性差}
\nR{p3}{858.5}{4071.4}{关键语法}
\node[rn] (p3a) at (913.5,3923.2) {\makebox[253.4pt][l]{\hspace{10.5pt}声明存储过}};
\draw[ln] (p3a.south west) -- (p3a.south east);
\node[rn] (p3aL) at (913.5,3934) {\hspace{10.5pt}程:CREATE PROCEDURE xxx(IN xx\_in int,OUT xx\_out int)};
\nR{p3a1}{1167}{3906}{IN 输入参数：表示调用者向过程传入值（传入值可以是字面量或变量）}
\nR{p3a2x}{1167}{3923.6}{OUT 输出参数：表示过程向调用者传出值(可以返回多个值)（传出值只能是变量）}
\nR{p3a3}{1167}{3940.9}{INOUT 输入输出参数：既表示调用者向过程传入值，又表示过程向调用者传出值（值只能是变量）}
\nR{p3b}{913.5}{3958.5}{存储过程开始和结束符号:BEGIN .... END}
\node[rn] (p3c) at (913.5,3976.5) {\makebox[168.5pt][l]{\hspace{10.5pt}变量定}};
\draw[ln] (p3c.south west) -- (p3c.south east);
\node[blk] (p3c2) at (913.5,3999) {\fontsize{7.2}{7.4}\selectfont\begin{tabular}{@{\hspace{10.5pt}}l@{}}义:\ \ \ \ DECLARE medinsCode varchar(40);\\变量赋值:SET @medinsCode=1\end{tabular}};
\draw[ln] (p3c2.south west) -- ++(122.5,0);
\nR{p3d}{913.5}{4046.1}{游标}
\nR{p3d1}{953.5}{4011.2}{定义游标}
\nR{p3d1a}{1007.5}{4011.2}{DECLARE list  CURSOR FOR select...}
\nR{p3d2}{953.5}{4028.8}{开启游标}
\nR{p3d2a}{1007.5}{4028.8}{open list}
\nR{p3d3}{953.5}{4055.1}{循环游标}
\nR{p3d3a}{1007.5}{4046.5}{xx:Loop}
\nR{p3d3b}{1007.5}{4064.1}{fetch list into medinsCode}
\nR{p3d4}{953.5}{4081.7}{关闭游标}
\nR{p3d4a}{1007.5}{4081.7}{close xx}
\nR{p3e}{913.5}{4107.7}{条件语法}
\nR{p3e1}{968}{4098.7}{if-then-else}
\nR{p3e2}{968}{4116.7}{case}
\nR{p3f}{913.5}{4185.6}{循环语法}
\node[blk] (p3f1) at (968,4159) {\fontsize{7.2}{9.8}\selectfont\begin{tabular}{@{\hspace{10.5pt}}l@{\hspace{5pt}}}1.while 条件 do\\...\\endwhile\end{tabular}};
\draw[ln] (p3f1.south west) -- (p3f1.south east);
\node[blk] (p3f2) at (968,4205.6) {\fontsize{7.2}{9.8}\selectfont\begin{tabular}{@{\hspace{10.5pt}}l@{\hspace{5pt}}}2.repeat\\\hspace*{8pt}...\\until 循环条\\件\end{tabular}};
\draw[ln] (p3f2.south west) -- (p3f2.south east);
\node[blk] (p3f3) at (968,4243) {\fontsize{7.2}{9.8}\selectfont\begin{tabular}{@{\hspace{10.5pt}}l@{\hspace{5pt}}}end repeat;\\3. loop\\...\\endloop\end{tabular}};
\draw[ln] (p3f3.south west) -- (p3f3.south east);
\topR{b7}{p1,p2,p3}
\conRs{p1}{p1a}
\conRs{p2}{p2a,p2b}
\conRs{p2a}{p2a1,p2a2,p2a3,p2a4,p2a5,p2a6}
\conRs{p2b}{p2b1,p2b2,p2b3}
\conRs{p3}{p3a,p3b,p3c,p3c2,p3d,p3e,p3f}
\conRs{p3a}{p3a1,p3a2x,p3a3}
\conRs{p3d}{p3d1,p3d2,p3d3,p3d4}
\conRs{p3d1}{p3d1a}
\conRs{p3d2}{p3d2a}
\conRs{p3d3}{p3d3a,p3d3b}
\conRs{p3d4}{p3d4a}
\conRs{p3e}{p3e1,p3e2}
\conRs{p3f}{p3f1,p3f2,p3f3}

% ================= L1 参数 =================
\nL{r1}{622.5}{1001.7}{服务器参数}
\nL{r1a}{561}{949.1}{应用类型}
\nL{r1b}{561}{975.2}{获取信息路径}
\nL{r1b1}{492}{966.9}{mysqld\_safe -{}-datadir=/data/sql\_data}
\nL{r1b2}{492}{984.3}{配置文件}
\nL{r1c}{561}{1028.1}{参数作用域}
\nL{r1c1}{499}{1010.4}{全局参数}
\nL{r1c1a}{445}{1001.7}{set global \ 参数名=参数值}
\nL{r1c1b}{445}{1019}{set @@global.参数名:=参数值}
\nL{r1c2}{499}{1045.5}{会话参数}
\nL{r1c2a}{445}{1036.8}{set[session]参数名=参数值}
\nL{r1c2b}{445}{1054.2}{set@@session.参数名:=参数值}
\nL{r2}{622.5}{1089.7}{I/O参数}
\nL{r2a}{572.5}{1081}{Innodb}
\nL{r2a1}{524}{1072}{日志文件的个数}
\nL{r2a1a}{447}{1072}{innodb\_log\_files\_in\_group}
\nL{r2a2}{524}{1089.7}{innodb\_log\_file\_size}
\nL{r2b}{572.5}{1107.1}{MyISam}
\nL{r3}{622.5}{1212.6}{内存参数}
\nL{r3a}{568.5}{1124.9}{确定可以使用的内存上限}
\nL{r3b}{568.5}{1168.7}{每个连接使用的内存}
\nL{r3b1}{478}{1141.9}{连接缓冲区的大小}
\nL{r3b1a}{394}{1141.9}{join\_buffer\_size}
\nL{r3b2}{478}{1159.7}{读缓冲区的大小}
\nL{r3b2a}{401}{1159.7}{read\_rnd\_buffer\_size}
\nL{r3b3}{478}{1177.4}{排序缓冲区的大小}
\nL{r3b3a}{394}{1177.4}{sort\_buffer\_size}
\nL{r3b4}{478}{1194.8}{全表扫描时候的大小}
\nL{r3b4a}{386.5}{1194.8}{read\_buffer\_size}
\nL{r3c}{568.5}{1212.6}{确认为操作系统保留的内存数}
\nL{r3d}{568.5}{1239}{如何为缓存池分配内存}
\nL{r3d1}{470.5}{1230.4}{innodb\_buffer\_pool\_size}
\nL{r3d2}{470.5}{1247.4}{总内存-（每个线程所需要的内存*连接数）-系统保留内存}
\nL{r3e}{568.5}{1282.9}{缓存池}
\nL{r3e1}{521}{1265.1}{InnoDB 缓冲池包括了数据页、索引页、插入缓冲、锁信息、自适应 Hash 和数据字典信息等}
\nL{r3e2}{521}{1282.9}{内存中可以直接访问数据}
\nL{r3e3}{521}{1299.9}{特性}
\nL{r3e3a}{480.5}{1299.9}{预读}
\nL{r3e3b}{440}{1299.9}{提升IO效率}
\nL{r4}{622.5}{1361.9}{安全配置}
\nL{r4a}{568.5}{1318}{指定自动清理binlog的天数}
\nL{r4a1}{456.5}{1318}{expire\_logs\_days}
\nL{r4b}{568.5}{1335.4}{控制Mysql可以接收的包的大小}
\nL{r4b1}{443.5}{1335.4}{max\_allowed\_packet}
\nL{r4c}{568.5}{1352.8}{禁用DNS查找}
\nL{r4c1}{498.5}{1352.8}{skip\_nam\_resolve}
\nL{r4d}{568.5}{1370.6}{确保当前时间返回确定性日期}
\nL{r4d1}{448}{1370.6}{sysdate\_is\_name}
\nL{r4e}{568.5}{1388}{禁止非super权限的用户写权限}
\nL{r4e1}{444.5}{1388}{read\_only}
\nL{r4f}{568.5}{1405.4}{禁用Slave自动恢复}
\nL{r4f1}{481}{1405.4}{skip\_slave\_start}
\topL{L1}{r1,r2,r3,r4}
\conLs{r1}{r1a,r1b,r1c}
\conLs{r1b}{r1b1,r1b2}
\conLs{r1c}{r1c1,r1c2}
\conLs{r1c1}{r1c1a,r1c1b}
\conLs{r1c2}{r1c2a,r1c2b}
\conLs{r2}{r2a,r2b}
\conLs{r2a}{r2a1,r2a2}
\conLs{r2a1}{r2a1a}
\conLs{r3}{r3a,r3b,r3c,r3d,r3e}
\conLs{r3b}{r3b1,r3b2,r3b3,r3b4}
\conLs{r3b1}{r3b1a}
\conLs{r3b2}{r3b2a}
\conLs{r3b3}{r3b3a}
\conLs{r3b4}{r3b4a}
\conLs{r3d}{r3d1,r3d2}
\conLs{r3e}{r3e1,r3e2,r3e3}
\conLs{r3e3}{r3e3a}
\conLs{r3e3a}{r3e3b}
\conLs{r4}{r4a,r4b,r4c,r4d,r4e,r4f}
\conLs{r4a}{r4a1}
\conLs{r4b}{r4b1}
\conLs{r4c}{r4c1}
\conLs{r4d}{r4d1}
\conLs{r4e}{r4e1}
\conLs{r4f}{r4f1}

% ================= L2 数据库结构设计 =================
\nL{d1}{580.5}{1432.6}{过分的反范式化为表建立太多的列}
\nL{d2}{580.5}{1450.4}{过分的范式化造成太多的表关联}
\nL{d3}{580.5}{1468.2}{在OLTP环境中使用不恰当的分区表}
\nL{d3a}{442}{1468.2}{分区键}
\nL{d4}{580.5}{1485.5}{使用外键保证数据的完整性}
\nL{d5}{580.5}{1529.5}{优化}
\nL{d5a}{540.5}{1529.5}{目的}
\nL{d5a1}{500.5}{1503.8}{1.减少数据冗余}
\nL{d5a2}{500.5}{1521.6}{2.尽量避免数据维护中出现更新，插入和删除异常}
\nL{d5a3}{500.5}{1539}{节约数据存储空间}
\nL{d5a4}{500.5}{1556.4}{提高查询速度}
\nL{d6}{580.5}{1652.7}{设计步骤}
\nL{d6a}{526}{1591.1}{1.需求分析}
\nL{d6a1}{467}{1574.1}{存储需求}
\nL{d6a2}{467}{1591.1}{数据处理需求}
\nL{d6a3}{467}{1608.9}{数据的安全性和完整性}
\nL{d6b}{526}{1635}{2.逻辑设计}
\nL{d6b1}{467}{1626.3}{1.设计数据的逻辑存储结构}
\nL{d6b2}{467}{1644}{2.实体与实体建的逻辑关系}
\nL{d6c}{526}{1687.5}{3.物理设计}
\nL{d6c1}{467}{1661.4}{根据数据库特点进行表结构设计}
\nL{d6c2}{467}{1678.8}{命名规范}
\nL{d6c3}{467}{1696.2}{存储引擎}
\nL{d6c4}{467}{1714}{数据类型}
\nL{d6d}{526}{1731.3}{4.维护优化}
\nL{d7}{580.5}{1802}{数据库设计范式}
\nL{d7a}{505}{1749.1}{第一范式}
\nL{d7a1}{450}{1749.1}{任何属性都是原子性，不可再分}
\nL{d7b}{505}{1766.9}{第二范式}
\nL{d7b1}{450}{1766.9}{只有一个业务主键}
\nL{d7c}{505}{1784.3}{第三范式}
\nL{d7c1}{450}{1784.3}{对任何非主属性都不传递依赖于候选键}
\nL{d7d}{505}{1802}{巴斯 - 科德范式}
\nL{d7e}{505}{1819.4}{第四范式}
\nL{d7f}{505}{1837.2}{第五范式}
\nL{d7g}{505}{1854.6}{反范式}
\nL{d7g1}{457.5}{1854.6}{空间换时间}
\topL{L2}{d1,d2,d3,d4,d5,d6,d7}
\conLs{d3}{d3a}
\conLs{d5}{d5a}
\conLs{d5a}{d5a1,d5a2,d5a3,d5a4}
\conLs{d6}{d6a,d6b,d6c,d6d}
\conLs{d6a}{d6a1,d6a2,d6a3}
\conLs{d6b}{d6b1,d6b2}
\conLs{d6c}{d6c1,d6c2,d6c3,d6c4}
\conLs{d7}{d7a,d7b,d7c,d7d,d7e,d7f,d7g}
\conLs{d7a}{d7a1}
\conLs{d7b}{d7b1}
\conLs{d7c}{d7c1}
\conLs{d7g}{d7g1}

% ================= L3 基准测试 =================
\nL{e1}{606.5}{1881.8}{针对系统设置的一种压力测试}
\nL{e2}{606.5}{1899.6}{直接、简单，评估服务的处理能力}
\nL{e3}{606.5}{1926.1}{步骤}
\nL{e3a}{565.5}{1926.1}{1.计划和设计基准测试}
\nL{e3a1}{470.5}{1917.4}{对整个系统还是某个组件}
\nL{e3a2}{470.5}{1934.8}{什么样的数据}
\topL{L3}{e1,e2,e3}
\conLs{e3}{e3a}
\conLs{e3a}{e3a1,e3a2}

% ================= L4 数据库索引 =================
\nL{i1}{597.5}{2033.1}{Tree索引}
\nL{i1a}{543}{1971.1}{B+数索引特点}
\nL{i1a1}{472}{1962.4}{加快数据查找}
\nL{i1a2}{472}{1979.8}{适合范围查找}
\nL{i1b}{543}{2024}{适合场景}
\nL{i1b1}{488.5}{1998}{全值匹配}
\nL{i1b2}{488.5}{2015.4}{匹配最左前缀}
\nL{i1b3}{488.5}{2032.7}{列前缀}
\nL{i1b4}{488.5}{2050.5}{排序}
\nL{i1c}{543}{2085.7}{限制}
\nL{i1c1}{503}{2067.9}{不按索引最左列开始查找}
\nL{i1c2}{503}{2085.7}{联合索引不能跳过索引中的列}
\nL{i1c3}{503}{2103.5}{not in 和 <>}
\nL{i2}{597.5}{2165.2}{Hash索引}
\nL{i2a}{540.5}{2130}{特点}
\nL{i2a1}{502}{2121.3}{基于Hash表实现，适合精确匹配Hash索引中的所有列}
\nL{i2a2}{502}{2138.7}{只存储了Hash码}
\nL{i2b}{540.5}{2182.6}{限制}
\nL{i2b1}{502}{2156.5}{必须进行二次查找}
\nL{i2b2}{502}{2173.9}{无法用于排序}
\nL{i2b3}{502}{2191.6}{不支持部分索引和范围查找}
\nL{i2b4}{502}{2209}{Hash冲突}
\nL{i3}{597.5}{2244.2}{作用}
\nL{i3a}{558}{2226.4}{索引减少存储引擎需要扫描的数据量}
\nL{i3b}{558}{2244.2}{索引帮助我们进行排序以避免使用临时表}
\nL{i3c}{558}{2261.6}{把随机I/O变为顺序I/o}
\nL{i4}{597.5}{2288.4}{过多索引}
\nL{i4a}{543}{2279.3}{增加写的操作成本}
\nL{i4b}{543}{2296.7}{增加查询优化器的选择}
\nL{i5}{597.5}{2410.9}{索引优化策略}
\nL{i5a}{528.5}{2314.1}{索引列上不能使用表达式或函数}
\nL{i5a1}{401.5}{2314.1}{to\_days(date)}
\nL{i5b}{528.5}{2331.9}{Innodb中所有长度不要超过767bytes}
\nL{i5c}{528.5}{2349.6}{前缀索引和索引列的选择}
\nL{i5d}{528.5}{2367}{尽量选择不重复的值作为索引}
\nL{i5e}{528.5}{2410.9}{联合索引}
\nL{i5e1}{474}{2401.8}{顺序}
\nL{i5e1a}{434.5}{2384.4}{常用的列优先}
\nL{i5e1b}{434.5}{2401.8}{选择性高的列优先}
\nL{i5e1c}{434.5}{2419.6}{宽度小的列优先}
\nL{i5e2}{474}{2437.3}{最左原则，例如xyz联合索引，当y使用了>等其他符号，后面按的索引就失效了}
\nL{i5f}{528.5}{2481.6}{覆盖索引}
\nL{i5f1}{474}{2454.7}{优化缓存，减少磁盘IO}
\nL{i5f2}{474}{2472.1}{减少随机IO，变随机为顺序操作}
\nL{i5f3}{474}{2490.3}{避免对Innodb主键索引的二次查询}
\nL{i5f4}{474}{2507.2}{避免MyIsam表进行系统调用}
\nL{i6}{597.5}{2525}{what}
\nL{i6a}{555}{2525}{帮助数据库管理系统高效获取数据的数据结构}
\nL{i7}{597.5}{2551.1}{索引造成效率低}
\nL{i7a}{521.5}{2542.8}{1.小表}
\nL{i7b}{521.5}{2560.2}{2.字段重复度大}
\nL{i8}{597.5}{2612.7}{索引片}
\nL{i8a}{550}{2577.6}{窄索引}
\nL{i8a1}{502}{2577.6}{包含索引列数为1或2}
\nL{i8b}{550}{2604}{宽索引}
\nL{i8b1}{503}{2595.3}{包含的所有列数大于2}
\nL{i8b2}{503}{2612.7}{通过宽索引避免回表}
\nL{i8c}{550}{2630}{列数越多开销越大}
\nL{i8d}{550}{2647.5}{过滤因子}
\nL{i8d1}{494}{2647.5}{过滤能力越强，满足条件的记录数就越少，减少扫描的索引片}
\nL{i9}{597.5}{2665.2}{回表}
\nL{i9a}{557}{2665.2}{就是数据库根据索引找到了数据行之后，还需要通过主键再次到数据表中读取数据的情况}
\nL{i10}{597.5}{2736.6}{理想索引设计}
\nL{i10a}{528.5}{2701}{三星索引}
\nL{i10a1}{474.5}{2683.6}{在 WHERE 条件语句中，找到所有等值谓词中的条件列，将它们作为索引片中的开始列}
\nL{i10a1a}{172}{2683.6}{最小化碎片，强过滤}
\nL{i10a2}{474.5}{2701}{2.将 GROUP BY 和 ORDER BY 中的列加入到索引中}
\nL{i10a2a}{278.5}{2701}{避免排序}
\nL{i10a3}{474.5}{2718.6}{3.将 SELECT 字段中剩余的列加入到索引片中}
\nL{i10a3a}{301.5}{2718.6}{避免回表}
\nL{i10b}{528.5}{2753.6}{缺点}
\nL{i10b1}{489.5}{2736.3}{三星索引会让索引片变宽，如果数据量很大，会造成磁盘空间的问题}
\nL{i10b2}{489.5}{2753.9}{增加了所以维护的成本}
\nL{i10b3}{489.5}{2771.6}{增加页数量}
\nL{i10c}{528.5}{2788.9}{没有理想的索引，只能合理设计索引，需要权衡索引效率和维护成本}
\nL{i11}{597.5}{2815.5}{自适应Hash索引}
\nL{i11a}{519.5}{2806.5}{show variables like '\%adaptive\_hash\_index';}
\nL{i11b}{519.5}{2824.2}{what}
\nL{i11b1}{476.5}{2824.2}{索引中的索引}
\topL{L4}{i1,i2,i3,i4,i5,i6,i7,i8,i9,i10,i11}
\conLs{i1}{i1a,i1b,i1c}
\conLs{i1a}{i1a1,i1a2}
\conLs{i1b}{i1b1,i1b2,i1b3,i1b4}
\conLs{i1c}{i1c1,i1c2,i1c3}
\conLs{i2}{i2a,i2b}
\conLs{i2a}{i2a1,i2a2}
\conLs{i2b}{i2b1,i2b2,i2b3,i2b4}
\conLs{i3}{i3a,i3b,i3c}
\conLs{i4}{i4a,i4b}
\conLs{i5}{i5a,i5b,i5c,i5d,i5e,i5f}
\conLs{i5a}{i5a1}
\conLs{i5e}{i5e1,i5e2}
\conLs{i5e1}{i5e1a,i5e1b,i5e1c}
\conLs{i5f}{i5f1,i5f2,i5f3,i5f4}
\conLs{i6}{i6a}
\conLs{i7}{i7a,i7b}
\conLs{i8}{i8a,i8b,i8c,i8d}
\conLs{i8a}{i8a1}
\conLs{i8b}{i8b1,i8b2}
\conLs{i8d}{i8d1}
\conLs{i9}{i9a}
\conLs{i10}{i10a,i10b,i10c}
\conLs{i10a}{i10a1,i10a2,i10a3}
\conLs{i10a1}{i10a1a}
\conLs{i10a2}{i10a2a}
\conLs{i10a3}{i10a3a}
\conLs{i10b}{i10b1,i10b2,i10b3}
\conLs{i11}{i11a,i11b}
\conLs{i11b}{i11b1}

% ================= L6 MVCC =================
\nL{v1}{615}{2932.8}{what}
\nL{v1a}{573}{2888.6}{对数据行进行多版本并发控制}
\nL{v1b}{573}{2923.6}{好处}
\nL{v1b1}{533.5}{2906.4}{1.读写互相不阻塞}
\nL{v1b2}{533.5}{2923.6}{2.降低死锁的概率，采用了乐观锁}
\nL{v1b3}{533.5}{2940.8}{3.解决一致性读问题}
\nL{v1c}{573}{2958.6}{当前读}
\nL{v1c1}{524.5}{2958.6}{被锁上的sql都属于当前读}
\nL{v1d}{573}{2976.4}{快照读}
\nL{v1d1}{524.5}{2976.4}{查历史}
\nL{v2}{615}{3046.5}{Innodb中的mvcc}
\nL{v2a}{534}{2993.7}{事务版本号}
\nL{v2b}{534}{3011.4}{自增ID}
\nL{v2c}{534}{3046.5}{行记录的隐藏列}
\nL{v2c1}{457.5}{3029.2}{db\_row\_id 隐藏的行ID}
\nL{v2c2}{457.5}{3046.5}{db\_trx\_id 操作这个事务的ID}
\nL{v2c3}{457.5}{3064.3}{db\_roll\_ptr 回滚指针}
\nL{v2d}{534}{3081.5}{Undo Log}
\nL{v2d1}{475}{3081.5}{保存历史版本}
\nL{v2e}{534}{3099.3}{Read View}
\nL{v2e1}{472.5}{3099.3}{来决定数据是否显示}
\nL{v3}{615}{3152.1}{Undo Log+Read View}
\nL{v3a}{516.5}{3117.1}{1.首先获取事务自己的版本号，也就是事务 ID；}
\nL{v3b}{516.5}{3134.3}{2.获取 Read View；}
\nL{v3c}{516.5}{3152.1}{3.查询得到的数据，然后与 Read View 中的事务版本号进行比较；}
\nL{v3d}{516.5}{3169.9}{4.如果不符合 ReadView 规则，就需要从 Undo Log 中获取历史快照；}
\nL{v3e}{516.5}{3187.1}{5.最后返回符合规则的数据。}
\nL{v4}{615}{3230.7}{解决幻读}
\nL{v4a}{560}{3204.9}{Next-key锁+MVCC}
\nL{v4b}{560}{3239.9}{InnoDB 三种行锁}
\nL{v4b1}{479}{3222.7}{记录锁：针对单个行记录添加锁。}
\nL{v4b2}{479}{3239.9}{间隙锁：可以帮我们锁住一个范围（索引之间的空隙），但不包括记录本身，采用间隙锁的方式可以防止幻读情况的产生。}
\nL{v4b3}{479}{3257.7}{Next-Key 锁：帮我们锁住一个范围，同时锁定记录本身，相当于间隙锁 + 记录锁，可以解决幻读的问题。}
\nL{v5}{615}{3274.9}{读未提交}
\nL{v5a}{559}{3274.9}{所有更新都可见，所以不需要MVCC}
\nL{v6}{615}{3292.1}{读已提交}
\nL{v6a}{559}{3292.1}{每一次ReadView都重新生成，如果操作已提交，他就会从ReadView中移除}
\nL{v7}{615}{3309.9}{可重复度}
\nL{v7a}{559}{3309.9}{事务只有在第一次进行读操作时才会生成一个ReadView，后续重复使用}
\topL{L6}{v1,v2,v3,v4,v5,v6,v7}
\conLs{v1}{v1a,v1b,v1c,v1d}
\conLs{v1b}{v1b1,v1b2,v1b3}
\conLs{v1c}{v1c1}
\conLs{v1d}{v1d1}
\conLs{v2}{v2a,v2b,v2c,v2d,v2e}
\conLs{v2c}{v2c1,v2c2,v2c3}
\conLs{v2d}{v2d1}
\conLs{v2e}{v2e1}
\conLs{v3}{v3a,v3b,v3c,v3d,v3e}
\conLs{v4}{v4a,v4b}
\conLs{v4b}{v4b1,v4b2,v4b3}
\conLs{v5}{v5a}
\conLs{v6}{v6a}
\conLs{v7}{v7a}

% watermark
\node[anchor=west,text=black!28,font=\fontsize{18}{20}\selectfont,inner sep=0pt] (wm) at (1308,4206) {@稀土掘金技术社区};
\end{tikzpicture}
\end{document}
